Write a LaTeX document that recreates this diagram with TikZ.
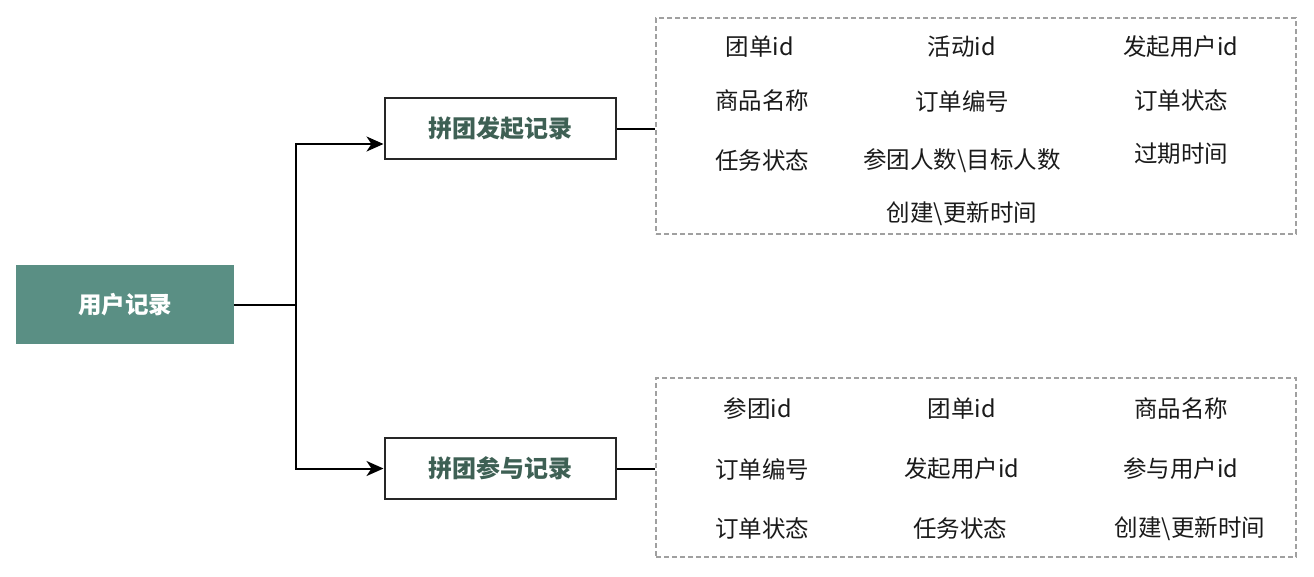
\documentclass[tikz,border=0pt]{standalone}
\usepackage{fontspec}
\setmainfont{Noto Sans CJK SC}
\usetikzlibrary{arrows.meta}
\definecolor{teal}{RGB}{90,143,132}
\definecolor{labelc}{RGB}{62,96,84}
\definecolor{dashc}{RGB}{160,160,160}
\definecolor{txt}{RGB}{26,26,26}
\tikzset{
  root/.style={fill=teal, draw=none, minimum width=218pt, minimum height=79pt, inner sep=0pt, text=white, font=\fontsize{23.5}{26}\selectfont\bfseries},
  recbox/.style={draw=black!85, line width=2pt, fill=white, minimum width=231pt, minimum height=61pt, inner sep=0pt, text=labelc, font=\fontsize{24}{26}\selectfont\bfseries},
  field/.style={text=txt, font=\fontsize{23.5}{26}\selectfont, inner sep=0pt},
  fieldbox/.style={draw=dashc, line width=1.1pt, dash pattern=on 5pt off 3pt, inner sep=0pt},
  conn/.style={line width=2pt, draw=black},
  arr/.style={conn, -{Stealth[length=17pt,width=15pt,inset=5pt]}},
}
\begin{document}
\begin{tikzpicture}[x=1pt,y=-1pt]
\useasboundingbox[fill=white] (0,0) rectangle (1314,576);
% main nodes
\node[root] (user) at (125,304.5) {用户记录};
\node[recbox] (start) at (500,128.5) {拼团发起记录};
\node[recbox] (join) at (500,468.5) {拼团参与记录};
% dashed field boxes
\node[fieldbox, minimum width=640pt, minimum height=216pt] (fa) at (976,126) {};
\node[fieldbox, minimum width=640pt, minimum height=179pt] (fb) at (976,467.5) {};
% fields of first box
\node[field] (a1) at (760,47) {团单id};
\node[field] (a2) at (962,47) {活动id};
\node[field] (a3) at (1181,47) {发起用户id};
\node[field] (a4) at (762,101) {商品名称};
\node[field] (a5) at (962,101) {订单编号};
\node[field] (a6) at (1181,101) {订单状态};
\node[field] (a7) at (762,161) {任务状态};
\node[field] (a8) at (962,161) {参团人数\textbackslash 目标人数};
\node[field] (a9) at (1181,154) {过期时间};
\node[field] (a10) at (962,214) {创建\textbackslash 更新时间};
% fields of second box
\node[field] (b1) at (758,409) {参团id};
\node[field] (b2) at (962,409) {团单id};
\node[field] (b3) at (1181,409) {商品名称};
\node[field] (b4) at (762,469) {订单编号};
\node[field] (b5) at (962,469) {发起用户id};
\node[field] (b6) at (1181,469) {参与用户id};
\node[field] (b7) at (762,529) {订单状态};
\node[field] (b8) at (960,529) {任务状态};
\node[field] (b9) at (1190,529) {创建\textbackslash 更新时间};
% connectors
\coordinate (jn) at (296,304.5);
\coordinate (jt) at (296,144);
\coordinate (jb) at (296,468.5);
\draw[conn] (user.east) -- (jn);
\draw[arr] (jn) -- (jt) -- (jt -| start.west);
\draw[arr] (jn) -- (jb) -- (join.west);
\draw[conn] (start.east) -- (start.east -| fa.west);
\draw[conn] (join.east) -- (join.east -| fb.west);
\end{tikzpicture}
\end{document}
